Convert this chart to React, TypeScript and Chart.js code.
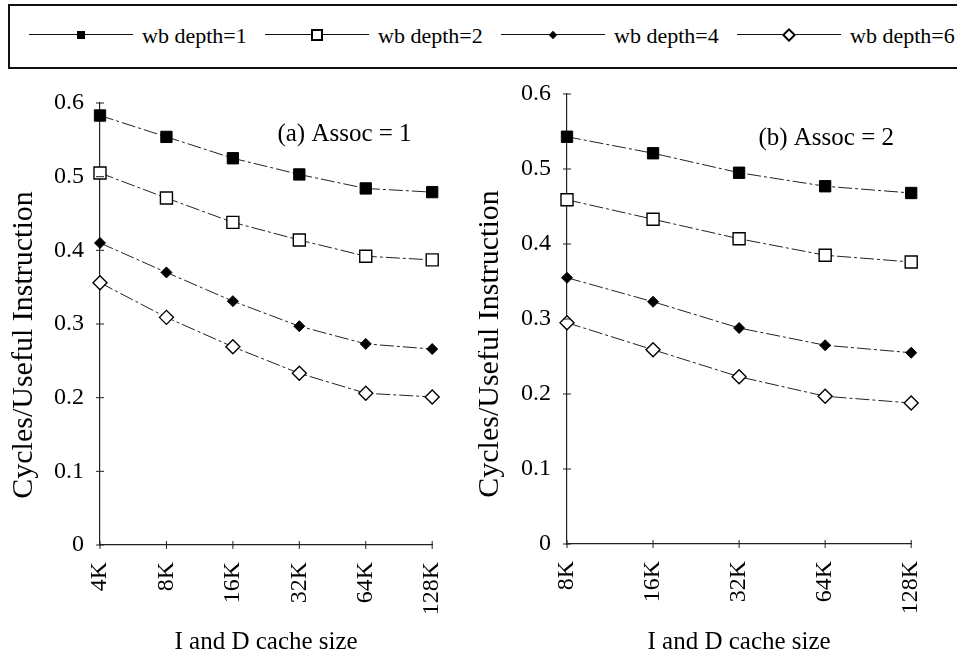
import React, { useEffect, useRef } from "react";
import { Chart, registerables } from "chart.js";

Chart.register(...registerables);

// ---- data ----
const sizesA = ["4K", "8K", "16K", "32K", "64K", "128K"];
const sizesB = ["8K", "16K", "32K", "64K", "128K"];
const seriesNames = ["wb depth=1", "wb depth=2", "wb depth=4", "wb depth=6"];

const assoc1Wb1 = [0.583, 0.554, 0.525, 0.503, 0.484, 0.479];
const assoc1Wb2 = [0.505, 0.471, 0.438, 0.414, 0.392, 0.387];
const assoc1Wb4 = [0.41, 0.37, 0.331, 0.297, 0.273, 0.266];
const assoc1Wb6 = [0.356, 0.309, 0.269, 0.233, 0.206, 0.201];

const assoc2Wb1 = [0.543, 0.521, 0.495, 0.477, 0.468];
const assoc2Wb2 = [0.459, 0.433, 0.407, 0.385, 0.376];
const assoc2Wb4 = [0.355, 0.323, 0.288, 0.265, 0.255];
const assoc2Wb6 = [0.295, 0.259, 0.223, 0.197, 0.188];

const yMin = 0;
const yMax = 0.6;
const yStep = 0.1;

const panelTitles = ["(a) Assoc = 1", "(b) Assoc = 2"];
const xTitle = "I and D cache size";
const yTitle = "Cycles/Useful Instruction";

// ---- styles ----
const FONT = "'Liberation Serif', 'Times New Roman', serif";
const markerStyles = ["rect", "rect", "rectRot", "rectRot"];
const markerRadius = [8, 8.5, 5.5, 7];
const markerFill = ["#000", "#fff", "#000", "#fff"];
const markerBorderWidth = [1, 1.4, 1, 1.4];

type PanelProps = {
  labels: string[];
  series: number[][];
  left: number;
  width: number;
  padTop: number;
  padRight: number;
  yWidth: number;
  xHeight: number;
  note: string;
  noteFx: number;
  noteFy: number;
  titleX: number;
};

function Panel(p: PanelProps) {
  const ref = useRef<HTMLCanvasElement | null>(null);
  useEffect(() => {
    if (!ref.current) return;
    const extras = {
      id: "extras",
      afterDraw(chart: any) {
        const { ctx, chartArea, scales } = chart;
        const x = scales.x;
        const y = scales.y;
        ctx.save();
        ctx.strokeStyle = "#222";
        ctx.lineWidth = 1;
        y.ticks.forEach((_t: any, i: number) => {
          const py = y.getPixelForTick(i);
          ctx.beginPath();
          ctx.moveTo(chartArea.left - 4, py);
          ctx.lineTo(chartArea.left + 4, py);
          ctx.stroke();
        });
        x.ticks.forEach((_t: any, i: number) => {
          const px = x.getPixelForTick(i);
          ctx.beginPath();
          ctx.moveTo(px, chartArea.bottom - 4);
          ctx.lineTo(px, chartArea.bottom + 4);
          ctx.stroke();
        });
        // annotation
        ctx.fillStyle = "#000";
        ctx.font = `25px ${FONT}`;
        ctx.textAlign = "left";
        ctx.textBaseline = "middle";
        ctx.fillText(
          p.note,
          chartArea.left + p.noteFx * (chartArea.right - chartArea.left),
          chartArea.top + p.noteFy * (chartArea.bottom - chartArea.top)
        );
        // y title
        ctx.translate(p.titleX, chartArea.bottom - 200);
        ctx.rotate(-Math.PI / 2);
        ctx.font = `30px ${FONT}`;
        ctx.textAlign = "center";
        ctx.textBaseline = "middle";
        ctx.fillText(yTitle, 0, 0);
        ctx.restore();
      },
    };
    const chart = new Chart(ref.current, {
      type: "line",
      data: {
        labels: p.labels,
        datasets: p.series.map((d, i) => ({
          label: seriesNames[i],
          data: d,
          borderColor: "#222",
          borderWidth: 1,
          borderDash: [14, 3, 3, 3],
          tension: 0,
          pointStyle: markerStyles[i] as any,
          pointRadius: markerRadius[i],
          pointBackgroundColor: markerFill[i],
          pointBorderColor: "#000",
          pointBorderWidth: markerBorderWidth[i],
        })),
      },
      options: {
        animation: false,
        responsive: false,
        maintainAspectRatio: false,
        layout: { padding: { top: p.padTop, right: p.padRight, left: 0, bottom: 0 } },
        plugins: { legend: { display: false }, tooltip: { enabled: false } },
        scales: {
          x: {
            grid: { display: false, drawTicks: false },
            border: { display: true, color: "#222", width: 1.2 },
            ticks: {
              autoSkip: false,
              minRotation: 90,
              maxRotation: 90,
              padding: 17,
              color: "#000",
              font: { family: FONT, size: 24 },
            },
            title: {
              display: true,
              text: xTitle,
              color: "#000",
              font: { family: FONT, size: 25 },
              padding: { top: 0, bottom: 0 },
            },
            afterFit: (s: any) => {
              s.height = p.xHeight;
            },
          },
          y: {
            min: yMin,
            max: yMax,
            grid: { display: false, drawTicks: false },
            border: { display: true, color: "#222", width: 1.2, dash: [9, 3, 2, 3] },
            ticks: {
              stepSize: yStep,
              padding: 16,
              color: "#000",
              font: { family: FONT, size: 24 },
            },
            afterFit: (s: any) => {
              s.width = p.yWidth;
            },
          },
        },
      },
      plugins: [extras],
    });
    return () => chart.destroy();
  }, []);
  return (
    <canvas
      ref={ref}
      width={p.width}
      height={657}
      style={{ position: "absolute", left: p.left, top: 0, width: p.width, height: 657 }}
    />
  );
}

function LegendMarker({ i }: { i: number }) {
  const common: React.CSSProperties = { position: "absolute", boxSizing: "border-box" };
  if (i === 0)
    return <div style={{ ...common, left: -4, top: -4, width: 8, height: 8, background: "#000" }} />;
  if (i === 1)
    return (
      <div
        style={{ ...common, left: -6, top: -6, width: 12, height: 12, background: "#fff", border: "2px solid #000" }}
      />
    );
  if (i === 2)
    return (
      <div
        style={{ ...common, left: -3, top: -3, width: 6, height: 6, background: "#000", transform: "rotate(45deg)" }}
      />
    );
  return (
    <div
      style={{
        ...common,
        left: -5,
        top: -5,
        width: 10,
        height: 10,
        background: "#fff",
        border: "2px solid #000",
        transform: "rotate(45deg)",
      }}
    />
  );
}

function Legend() {
  return (
    <div
      style={{
        position: "absolute",
        left: 8,
        top: 4,
        width: 960,
        height: 65,
        boxSizing: "border-box",
        borderTop: "2px solid #111",
        borderLeft: "2px solid #111",
        borderBottom: "2px solid #111",
      }}
    >
      {seriesNames.map((name, i) => {
        const x0 = 19 + i * 236;
        return (
          <React.Fragment key={name}>
            <div
              style={{ position: "absolute", left: x0, top: 28, width: 104, height: 0, borderTop: "1.5px solid #111" }}
            />
            <div style={{ position: "absolute", left: x0 + 52, top: 29 }}>
              <LegendMarker i={i} />
            </div>
            <div
              style={{
                position: "absolute",
                left: x0 + 113,
                top: 16,
                fontFamily: FONT,
                fontSize: 22,
                lineHeight: "28px",
                whiteSpace: "nowrap",
                color: "#000",
              }}
            >
              {name}
            </div>
          </React.Fragment>
        );
      })}
    </div>
  );
}

export default function App() {
  return (
    <div
      style={{
        position: "fixed",
        left: 0,
        top: 0,
        width: 957,
        height: 657,
        background: "#fff",
        overflow: "hidden",
      }}
    >
      <Legend />
      <Panel
        labels={sizesA}
        series={[assoc1Wb1, assoc1Wb2, assoc1Wb4, assoc1Wb6]}
        left={0}
        width={478}
        padTop={103}
        padRight={26}
        yWidth={100}
        xHeight={112}
        note={panelTitles[0]}
        noteFx={0.534}
        noteFy={0.072}
        titleX={24}
      />
      <Panel
        labels={sizesB}
        series={[assoc2Wb1, assoc2Wb2, assoc2Wb4, assoc2Wb6]}
        left={478}
        width={479}
        padTop={94}
        padRight={39}
        yWidth={89}
        xHeight={113}
        note={panelTitles[1]}
        noteFx={0.556}
        noteFy={0.098}
        titleX={12}
      />
    </div>
  );
}
